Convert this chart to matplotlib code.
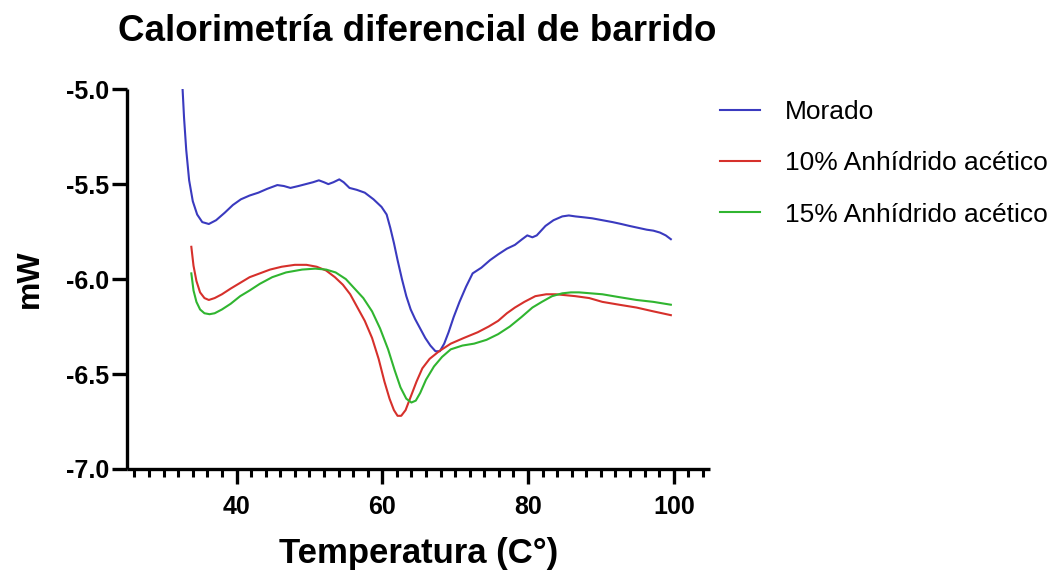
import matplotlib
matplotlib.use("Agg")
import matplotlib.pyplot as plt
from matplotlib.ticker import MultipleLocator, FormatStrFormatter

plt.rcParams["font.family"] = ["Liberation Sans", "DejaVu Sans"]

# Morado
temp_morado = [32.6, 32.8, 33.1, 33.5, 34.0, 34.6, 35.3, 36.2, 37.2, 38.4, 39.5,
               40.6, 41.8, 43.0, 44.2, 45.6, 46.5, 47.4, 48.5, 49.5, 50.5, 51.3,
               52.0, 52.6, 53.3, 54.1, 54.7, 55.5, 56.5, 57.6, 58.8, 59.9, 60.6,
               61.1, 61.6, 62.1, 62.7, 63.3, 63.9, 64.5, 65.2, 65.9, 66.6, 67.3,
               67.9, 68.5, 69.1, 69.8, 70.6, 71.5, 72.4, 73.6, 74.8, 75.9, 77.1,
               78.2, 79.2, 79.9, 80.6, 81.2, 82.4, 83.5, 84.7, 85.6, 86.5, 87.7,
               88.8, 90.2, 91.6, 92.8, 93.9, 95.1, 96.3, 97.2, 98.1, 98.9, 99.6]
mw_morado = [-5.00, -5.15, -5.32, -5.48, -5.59, -5.66, -5.70, -5.71, -5.69, -5.65, -5.61,
             -5.58, -5.56, -5.545, -5.525, -5.505, -5.51, -5.52, -5.51, -5.50, -5.49, -5.48,
             -5.49, -5.50, -5.49, -5.475, -5.49, -5.52, -5.53, -5.545, -5.58, -5.62, -5.66,
             -5.73, -5.81, -5.90, -6.00, -6.09, -6.16, -6.21, -6.26, -6.31, -6.35, -6.38,
             -6.38, -6.34, -6.28, -6.20, -6.12, -6.04, -5.97, -5.94, -5.90, -5.87, -5.84,
             -5.82, -5.79, -5.77, -5.78, -5.77, -5.72, -5.69, -5.67, -5.665, -5.67, -5.675,
             -5.68, -5.69, -5.70, -5.71, -5.72, -5.73, -5.74, -5.745, -5.755, -5.77, -5.79]

# 10% Anhídrido acético
temp_10 = [33.8, 34.1, 34.5, 35.0, 35.6, 36.2, 37.0, 38.0, 39.2, 40.5, 41.8,
           43.2, 44.6, 46.2, 48.0, 49.6, 51.0, 52.3, 53.5, 54.6, 55.6, 56.6,
           57.6, 58.6, 59.5, 60.3, 61.0, 61.6, 62.1, 62.6, 63.2, 63.9, 64.7,
           65.5, 66.5, 67.8, 69.4, 71.2, 73.1, 74.6, 75.9, 77.1, 78.2, 79.5,
           81.0, 82.5, 83.8, 85.2, 86.5, 88.4, 90.2, 92.5, 94.9, 97.2, 99.6]
mw_10 = [-5.83, -5.93, -6.01, -6.07, -6.10, -6.11, -6.10, -6.08, -6.05, -6.02, -5.99,
         -5.97, -5.95, -5.935, -5.925, -5.925, -5.935, -5.955, -5.99, -6.03, -6.08, -6.15,
         -6.22, -6.31, -6.42, -6.54, -6.63, -6.69, -6.72, -6.72, -6.69, -6.62, -6.54,
         -6.47, -6.42, -6.38, -6.34, -6.31, -6.28, -6.25, -6.22, -6.18, -6.15, -6.12,
         -6.09, -6.08, -6.08, -6.085, -6.09, -6.10, -6.12, -6.135, -6.15, -6.17, -6.19]

# 15% Anhídrido acético
temp_15 = [33.8, 34.1, 34.5, 35.0, 35.6, 36.3, 37.0, 38.0, 39.2, 40.5, 41.8,
           43.2, 44.9, 46.8, 49.0, 50.8, 52.3, 53.6, 55.0, 56.2, 57.4, 58.6,
           59.7, 60.8, 61.7, 62.5, 63.3, 64.0, 64.6, 65.2, 66.0, 67.1, 68.2,
           69.4, 71.0, 72.6, 74.3, 75.9, 77.5, 79.1, 80.6, 81.9, 83.3, 84.7,
           85.9, 87.0, 88.6, 90.2, 92.5, 94.9, 97.2, 99.6]
mw_15 = [-5.97, -6.06, -6.12, -6.16, -6.18, -6.185, -6.18, -6.16, -6.13, -6.09, -6.06,
         -6.025, -5.99, -5.965, -5.95, -5.945, -5.95, -5.965, -6.00, -6.05, -6.10, -6.17,
         -6.26, -6.37, -6.48, -6.57, -6.63, -6.65, -6.64, -6.60, -6.53, -6.46, -6.41,
         -6.37, -6.35, -6.34, -6.32, -6.29, -6.25, -6.20, -6.15, -6.12, -6.09, -6.075,
         -6.07, -6.07, -6.075, -6.08, -6.095, -6.11, -6.12, -6.135]

x_ticks = [40, 60, 80, 100]

series = [
    ("Morado", temp_morado, mw_morado, "#3a3abf"),
    ("10% Anhídrido acético", temp_10, mw_10, "#d6302b"),
    ("15% Anhídrido acético", temp_15, mw_15, "#30b530"),
]

fig = plt.figure(figsize=(10.6, 5.79), dpi=100)
ax = fig.add_axes([0.120, 0.190, 0.550, 0.656])

for label, x, y, color in series:
    ax.plot(x, y, color=color, lw=1.5, label=label)

ax.set_xlim(25, 105)
ax.set_ylim(-7.0, -5.0)
ax.set_xticks(x_ticks)
ax.xaxis.set_minor_locator(MultipleLocator(2))
ax.yaxis.set_major_locator(MultipleLocator(0.5))
ax.yaxis.set_major_formatter(FormatStrFormatter("%.1f"))

for side in ("top", "right"):
    ax.spines[side].set_visible(False)
for side in ("left", "bottom"):
    ax.spines[side].set_linewidth(2.4)
    ax.spines[side].set_capstyle("butt")

ax.tick_params(which="major", length=11, width=2.4, labelsize=18)
ax.tick_params(axis="x", which="major", pad=8)
ax.tick_params(axis="y", which="major", pad=2)
ax.tick_params(which="minor", length=6, width=2.2)
for lbl in ax.get_xticklabels() + ax.get_yticklabels():
    lbl.set_fontweight("bold")

ax.set_xlabel("Temperatura (C°)", fontsize=25, fontweight="bold", labelpad=13)
ax.set_ylabel("mW", fontsize=23, fontweight="bold", labelpad=15)
fig.text(0.111, 0.946, "Calorimetría diferencial de barrido", fontsize=26.5,
         fontweight="bold", ha="left", va="center")

fig.legend(loc="upper left", bbox_to_anchor=(0.679, 0.827), frameon=False,
           fontsize=19, handlelength=1.52, handletextpad=0.94,
           labelspacing=1.03, borderpad=0, borderaxespad=0)

fig.savefig("out.png", dpi=100, facecolor="white")
